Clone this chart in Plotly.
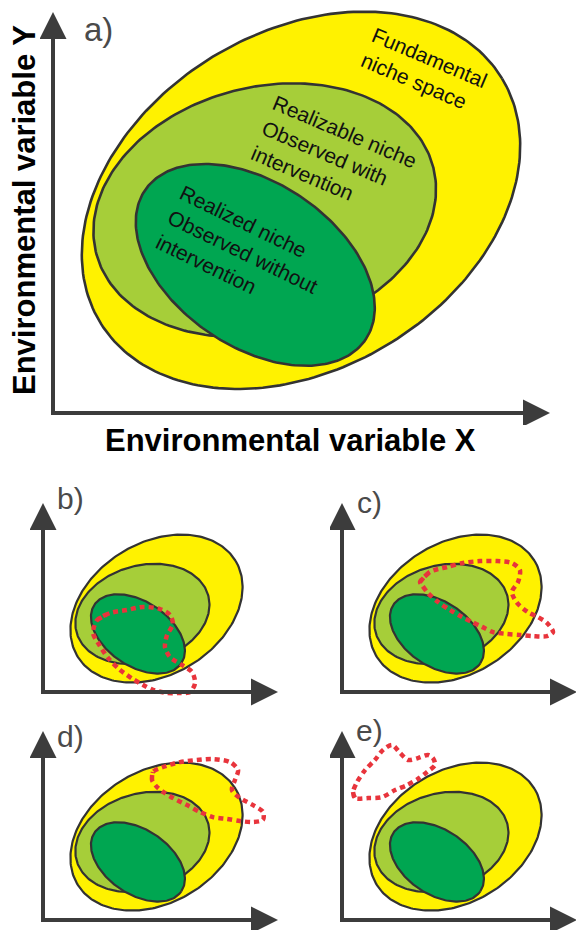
import numpy as np
import plotly.graph_objects as go

W, H = 576, 930

# ---- niche ellipses: centre, semi-axes, tilt (degrees), in axis units ----
NICHE_LABELS = ["Fundamental niche space", "Realizable niche", "Realized niche"]
NICHE_COLORS = ["#FFF200", "#A6CE39", "#00A651"]

MAIN_CX = [49.9, 42.6, 40.7]
MAIN_CY = [42.8, 40.8, 29.8]
MAIN_A = [47.3, 35.0, 26.8]
MAIN_B = [33.9, 24.8, 16.5]
MAIN_TILT = [31.2, 14.2, -34.1]

SMALL_CX = [48.3, 42.3, 40.4]
SMALL_CY = [35.5, 33.2, 24.7]
SMALL_A = [39.3, 29.1, 22.3]
SMALL_B = [28.1, 20.6, 13.7]
SMALL_TILT = [31.2, 16.0, -34.1]

# ---- observed niche of the population in scenarios b-e (closed outlines) ----
OUTLINE_B_X = [23.0, 28.5, 35.7, 42.6, 49.8, 54.0, 55.3, 52.8, 51.9, 54.0, 59.1, 63.4,
               64.7, 62.6, 58.3, 52.8, 46.8, 42.6, 38.3, 32.8, 27.7, 23.4, 21.3]
OUTLINE_B_Y = [30.6, 33.6, 34.9, 36.2, 35.3, 32.8, 28.9, 24.3, 19.1, 14.9, 11.5, 8.5,
               3.8, 0.0, -0.4, -0.4, 0.9, 3.0, 5.5, 9.4, 14.5, 20.9, 25.1]

OUTLINE_C_X = [33.2, 37.4, 44.7, 51.5, 58.7, 66.0, 72.3, 75.7, 74.9, 72.3, 74.5, 79.1,
               83.4, 87.2, 89.8, 87.2, 81.3, 75.7, 70.2, 64.3, 59.6, 55.3, 51.1, 46.0,
               40.9, 36.6, 34.0]
OUTLINE_C_Y = [46.8, 51.1, 53.2, 54.9, 55.7, 55.7, 54.9, 51.9, 46.8, 42.6, 37.9, 34.0,
               31.9, 29.4, 25.5, 23.8, 23.8, 24.3, 24.7, 25.5, 27.7, 29.8, 31.9, 34.9,
               38.3, 42.1, 45.5]

OUTLINE_D_X = [46.4, 46.8, 51.1, 58.3, 65.5, 72.3, 79.6, 83.0, 81.7, 80.4, 83.8, 89.4,
               93.6, 93.6, 89.4, 83.8, 78.3, 72.3, 66.8, 61.3, 55.3, 51.1, 48.5]
OUTLINE_D_Y = [59.6, 63.0, 65.1, 67.2, 68.1, 68.5, 67.2, 63.8, 59.6, 55.3, 51.9, 48.9,
               46.0, 42.6, 41.7, 42.1, 43.0, 43.8, 46.0, 48.9, 51.9, 54.5, 56.6]

OUTLINE_E_X = [4.7, 5.5, 11.1, 17.0, 22.6, 27.7, 32.3, 36.2, 39.6, 38.7, 36.6, 32.3,
               28.1, 24.7, 21.3, 17.4, 14.0, 9.8, 6.4]
OUTLINE_E_Y = [54.5, 51.9, 51.9, 52.3, 55.3, 57.4, 60.0, 63.0, 66.0, 68.9, 70.2, 68.9,
               68.1, 71.1, 74.5, 72.3, 68.1, 63.8, 58.7]

PANEL_LETTERS = ["a)", "b)", "c)", "d)", "e)"]
X_TITLE = "Environmental variable X"
Y_TITLE = "Environmental variable Y"

FONT = "Liberation Sans, Arial, Helvetica, sans-serif"
AXIS_COLOR = "#3c3c3c"
EDGE_COLOR = "#333333"
RED = "#E8343C"

# panel layout: origin (px), arrow lengths (px), drawing box (px)
PANELS = [
    dict(ox=53, oy=413, lx=497, ly=401, box=(40, 576, 0, 425)),
    dict(ox=43, oy=692, lx=235, ly=189, box=(30, 290, 478, 706)),
    dict(ox=342, oy=692, lx=235, ly=189, box=(330, 576, 478, 706)),
    dict(ox=43, oy=920, lx=235, ly=189, box=(30, 290, 712, 930)),
    dict(ox=342, oy=920, lx=235, ly=189, box=(330, 576, 712, 930)),
]


def ellipse(cx, cy, a, b, tilt, n=240):
    t = np.linspace(0, 2 * np.pi, n)
    th = np.radians(tilt)
    x = cx + a * np.cos(th) * np.cos(t) - b * np.sin(th) * np.sin(t)
    y = cy + a * np.sin(th) * np.cos(t) + b * np.cos(th) * np.sin(t)
    return x, y


def paper(xp, yp):
    return xp / W, 1 - yp / H


fig = go.Figure()
layout_axes = {}
shapes = []

for i, p in enumerate(PANELS):
    k = p["lx"] / 100.0  # px per unit, same on both axes
    x0, x1, y0, y1 = p["box"]
    sfx = "" if i == 0 else str(i + 1)
    layout_axes["xaxis" + sfx] = dict(
        domain=[x0 / W, x1 / W], range=[(x0 - p["ox"]) / k, (x1 - p["ox"]) / k],
        visible=False, fixedrange=True, anchor="y" + sfx)
    layout_axes["yaxis" + sfx] = dict(
        domain=[1 - y1 / H, 1 - y0 / H], range=[(p["oy"] - y1) / k, (p["oy"] - y0) / k],
        visible=False, fixedrange=True, anchor="x" + sfx)
    xr, yr = "x" + sfx, "y" + sfx
    x_tip = 100.0
    y_tip = p["ly"] / k
    head = 27.0
    # axis shafts
    shapes.append(dict(type="line", xref=xr, yref=yr, x0=0, y0=0, x1=x_tip - head / k + 1 / k, y1=0,
                       line=dict(color=AXIS_COLOR, width=4)))
    shapes.append(dict(type="line", xref=xr, yref=yr, x0=0, y0=-2 / k, x1=0, y1=y_tip - head / k + 1 / k,
                       line=dict(color=AXIS_COLOR, width=4)))
    # arrow heads
    shapes.append(dict(type="path", xref=xr, yref=yr, xsizemode="pixel", ysizemode="pixel",
                       xanchor=x_tip, yanchor=0,
                       path=f"M0,0 L{-head},{head / 2} L{-head},{-head / 2} Z",
                       fillcolor=AXIS_COLOR, line=dict(width=0)))
    shapes.append(dict(type="path", xref=xr, yref=yr, xsizemode="pixel", ysizemode="pixel",
                       xanchor=0, yanchor=y_tip,
                       path=f"M0,0 L{-head / 2},{-head} L{head / 2},{-head} Z",
                       fillcolor=AXIS_COLOR, line=dict(width=0)))

    if i == 0:
        cxs, cys, As, Bs, tilts = MAIN_CX, MAIN_CY, MAIN_A, MAIN_B, MAIN_TILT
        lw = 2.6
    else:
        cxs, cys, As, Bs, tilts = SMALL_CX, SMALL_CY, SMALL_A, SMALL_B, SMALL_TILT
        lw = 2.2
    for j in range(3):
        ex, ey = ellipse(cxs[j], cys[j], As[j], Bs[j], tilts[j])
        fig.add_trace(go.Scatter(
            x=ex, y=ey, mode="lines", fill="toself", fillcolor=NICHE_COLORS[j],
            line=dict(color=EDGE_COLOR, width=lw), name=NICHE_LABELS[j],
            hoverinfo="skip", showlegend=False, xaxis=xr, yaxis=yr))

outlines = [(OUTLINE_B_X, OUTLINE_B_Y), (OUTLINE_C_X, OUTLINE_C_Y),
            (OUTLINE_D_X, OUTLINE_D_Y), (OUTLINE_E_X, OUTLINE_E_Y)]
for i, (ox_, oy_) in enumerate(outlines):
    sfx = str(i + 2)
    fig.add_trace(go.Scatter(
        x=list(ox_) + [ox_[0], ox_[1]], y=list(oy_) + [oy_[0], oy_[1]], mode="lines",
        line=dict(color=RED, width=4.5, dash="5px,4px", shape="spline", smoothing=0.8),
        hoverinfo="skip", showlegend=False, xaxis="x" + sfx, yaxis="y" + sfx))

annotations = []


def note(text, xp, yp, size, color="#111111", angle=0, bold=False, align="center"):
    xx, yy = paper(xp, yp)
    annotations.append(dict(
        text=f"<b>{text}</b>" if bold else text, x=xx, y=yy, xref="paper", yref="paper",
        xanchor="center", yanchor="middle", showarrow=False, textangle=angle, align=align,
        font=dict(family=FONT, size=size, color=color)))


# axis titles
note(X_TITLE, 290, 441, 31, color="#000000", bold=True)
note(Y_TITLE, 24, 210, 31, color="#000000", angle=-90, bold=True)

# panel letters
letter_pos = [(98, 30, 33), (70, 498, 30), (369, 502, 30), (70, 736, 30), (369, 730, 30)]
for lab, (xp, yp, sz) in zip(PANEL_LETTERS, letter_pos):
    note(lab, xp, yp, sz, color="#4a4a4a")

# niche names inside panel a
note("Fundamental<br>niche space", 424, 70, 21, angle=23, align="left")
note("Realizable niche<br>Observed with<br>intervention", 334, 157, 21, angle=23, align="left")
note("Realized niche<br>Observed without<br>intervention", 243, 252, 21, angle=26, align="left")

fig.update_layout(
    width=W, height=H, margin=dict(l=0, r=0, t=0, b=0),
    paper_bgcolor="white", plot_bgcolor="rgba(0,0,0,0)",
    showlegend=False, shapes=shapes, annotations=annotations, **layout_axes)

fig.write_html("out.html")
